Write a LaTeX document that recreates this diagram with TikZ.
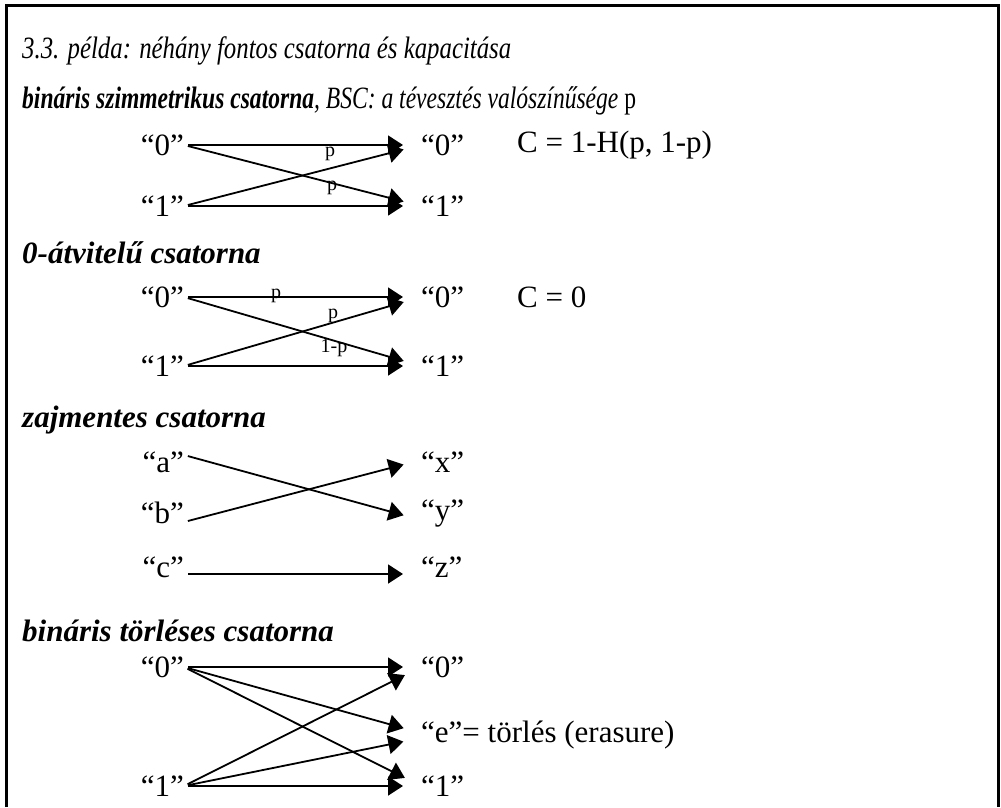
\documentclass[tikz,border=0pt]{standalone}
\usepackage{fontspec}
\setmainfont{Liberation Serif}
\newfontfamily\titlefam[FakeStretch=0.8]{Liberation Serif}
\newfontfamily\lineII[FakeStretch=0.76]{Liberation Serif}
\usetikzlibrary{arrows.meta}
\begin{document}
\begin{tikzpicture}[x=1pt,y=-1pt,
  lbl/.style={font=\fontsize{31}{36}\selectfont, inner sep=0pt},
  small/.style={font=\fontsize{20}{22}\selectfont, inner sep=0pt},
  arr/.style={line width=1.8pt, -{Triangle[length=15pt,width=19pt]}, shorten <=4pt, shorten >=18pt},
  txt/.style={anchor=base west, inner sep=0pt},
  head/.style={font=\fontsize{31}{36}\selectfont\bfseries\itshape, anchor=base west, inner sep=0pt},
  frame/.style={line width=3pt}]
\useasboundingbox (0,0) rectangle (1001,807);
\draw[frame] (6.5,807) -- (6.5,5.5) -- (998.5,5.5) -- (998.5,807);

% headings
\node[txt, font=\fontsize{31}{36}\selectfont\titlefam\itshape] (title) at (22,58) {3.3. példa: néhány fontos csatorna és kapacitása};
\node[txt, font=\fontsize{31}{36}\selectfont\lineII\itshape] (bsc) at (22,108) {\textbf{bináris szimmetrikus csatorna}, BSC: a tévesztés valószínűsége \upshape p};
\node[head] (h2) at (22,263) {0-átvitelű csatorna};
\node[head] (h3) at (22,427) {zajmentes csatorna};
\node[head] (h4) at (22,641) {bináris törléses csatorna};

% BSC
\node[lbl, anchor=east] (a0) at (184,145) {“0”};
\node[lbl, anchor=east] (a1) at (184,206) {“1”};
\node[lbl, anchor=west] (b0) at (421,145) {“0”};
\node[lbl, anchor=west] (b1) at (421,206) {“1”};
\node[lbl, anchor=west] (cap1) at (517,145) {C = 1-H(p, 1-p)};
\draw[arr] (a0.east) -- (b0.west);
\draw[arr] (a0.east) -- (b1.west);
\draw[arr] (a1.east) -- (b0.west);
\draw[arr] (a1.east) -- (b1.west);
\node[small] (p1) at (330,154) {p};
\node[small] (p2) at (332,188) {p};

% 0-atviteli
\node[lbl, anchor=east] (c0) at (184,297) {“0”};
\node[lbl, anchor=east] (c1) at (184,366) {“1”};
\node[lbl, anchor=west] (d0) at (421,297) {“0”};
\node[lbl, anchor=west] (d1) at (421,366) {“1”};
\node[lbl, anchor=west] (cap2) at (517,297) {C = 0};
\draw[arr] (c0.east) -- (d0.west);
\draw[arr] (c0.east) -- (d1.west);
\draw[arr] (c1.east) -- (d0.west);
\draw[arr] (c1.east) -- (d1.west);
\node[small] (p3) at (276,296) {p};
\node[small] (p4) at (333,316) {p};
\node[small] (p5) at (334,348) {1-p};

% zajmentes
\node[lbl, anchor=east] (za) at (184,462) {“a”};
\node[lbl, anchor=east] (zb) at (184,513) {“b”};
\node[lbl, anchor=east] (zc) at (184,567) {“c”};
\node[lbl, anchor=west] (zx) at (421,462) {“x”};
\node[lbl, anchor=west] (zy) at (421,514) {“y”};
\node[lbl, anchor=west] (zz) at (421,567) {“z”};
\draw[arr] ([yshift=7pt]za.east) -- ([yshift=-6pt]zy.west);
\draw[arr] ([yshift=-9pt]zb.east) -- ([yshift=2pt]zx.west);
\draw[arr] ([yshift=-7pt]zc.east) -- ([yshift=-7pt]zz.west);

% torleses
\node[lbl, anchor=east] (e0) at (184,667) {“0”};
\node[lbl, anchor=east] (e1) at (184,786) {“1”};
\node[lbl, anchor=west] (f0) at (421,667) {“0”};
\node[lbl, anchor=west] (fe) at (421,735) {“e”= törlés (erasure)};
\node[lbl, anchor=west] (f1) at (421,786) {“1”};
\draw[arr] (e0.east) -- (f0.west);
\draw[arr] (e0.east) -- ([yshift=2pt]fe.west);
\draw[arr] (e0.east) -- (f1.west);
\draw[arr] (e1.east) -- (f0.west);
\draw[arr] (e1.east) -- ([yshift=-3pt]fe.west);
\draw[arr] (e1.east) -- (f1.west);
\end{tikzpicture}
\end{document}
